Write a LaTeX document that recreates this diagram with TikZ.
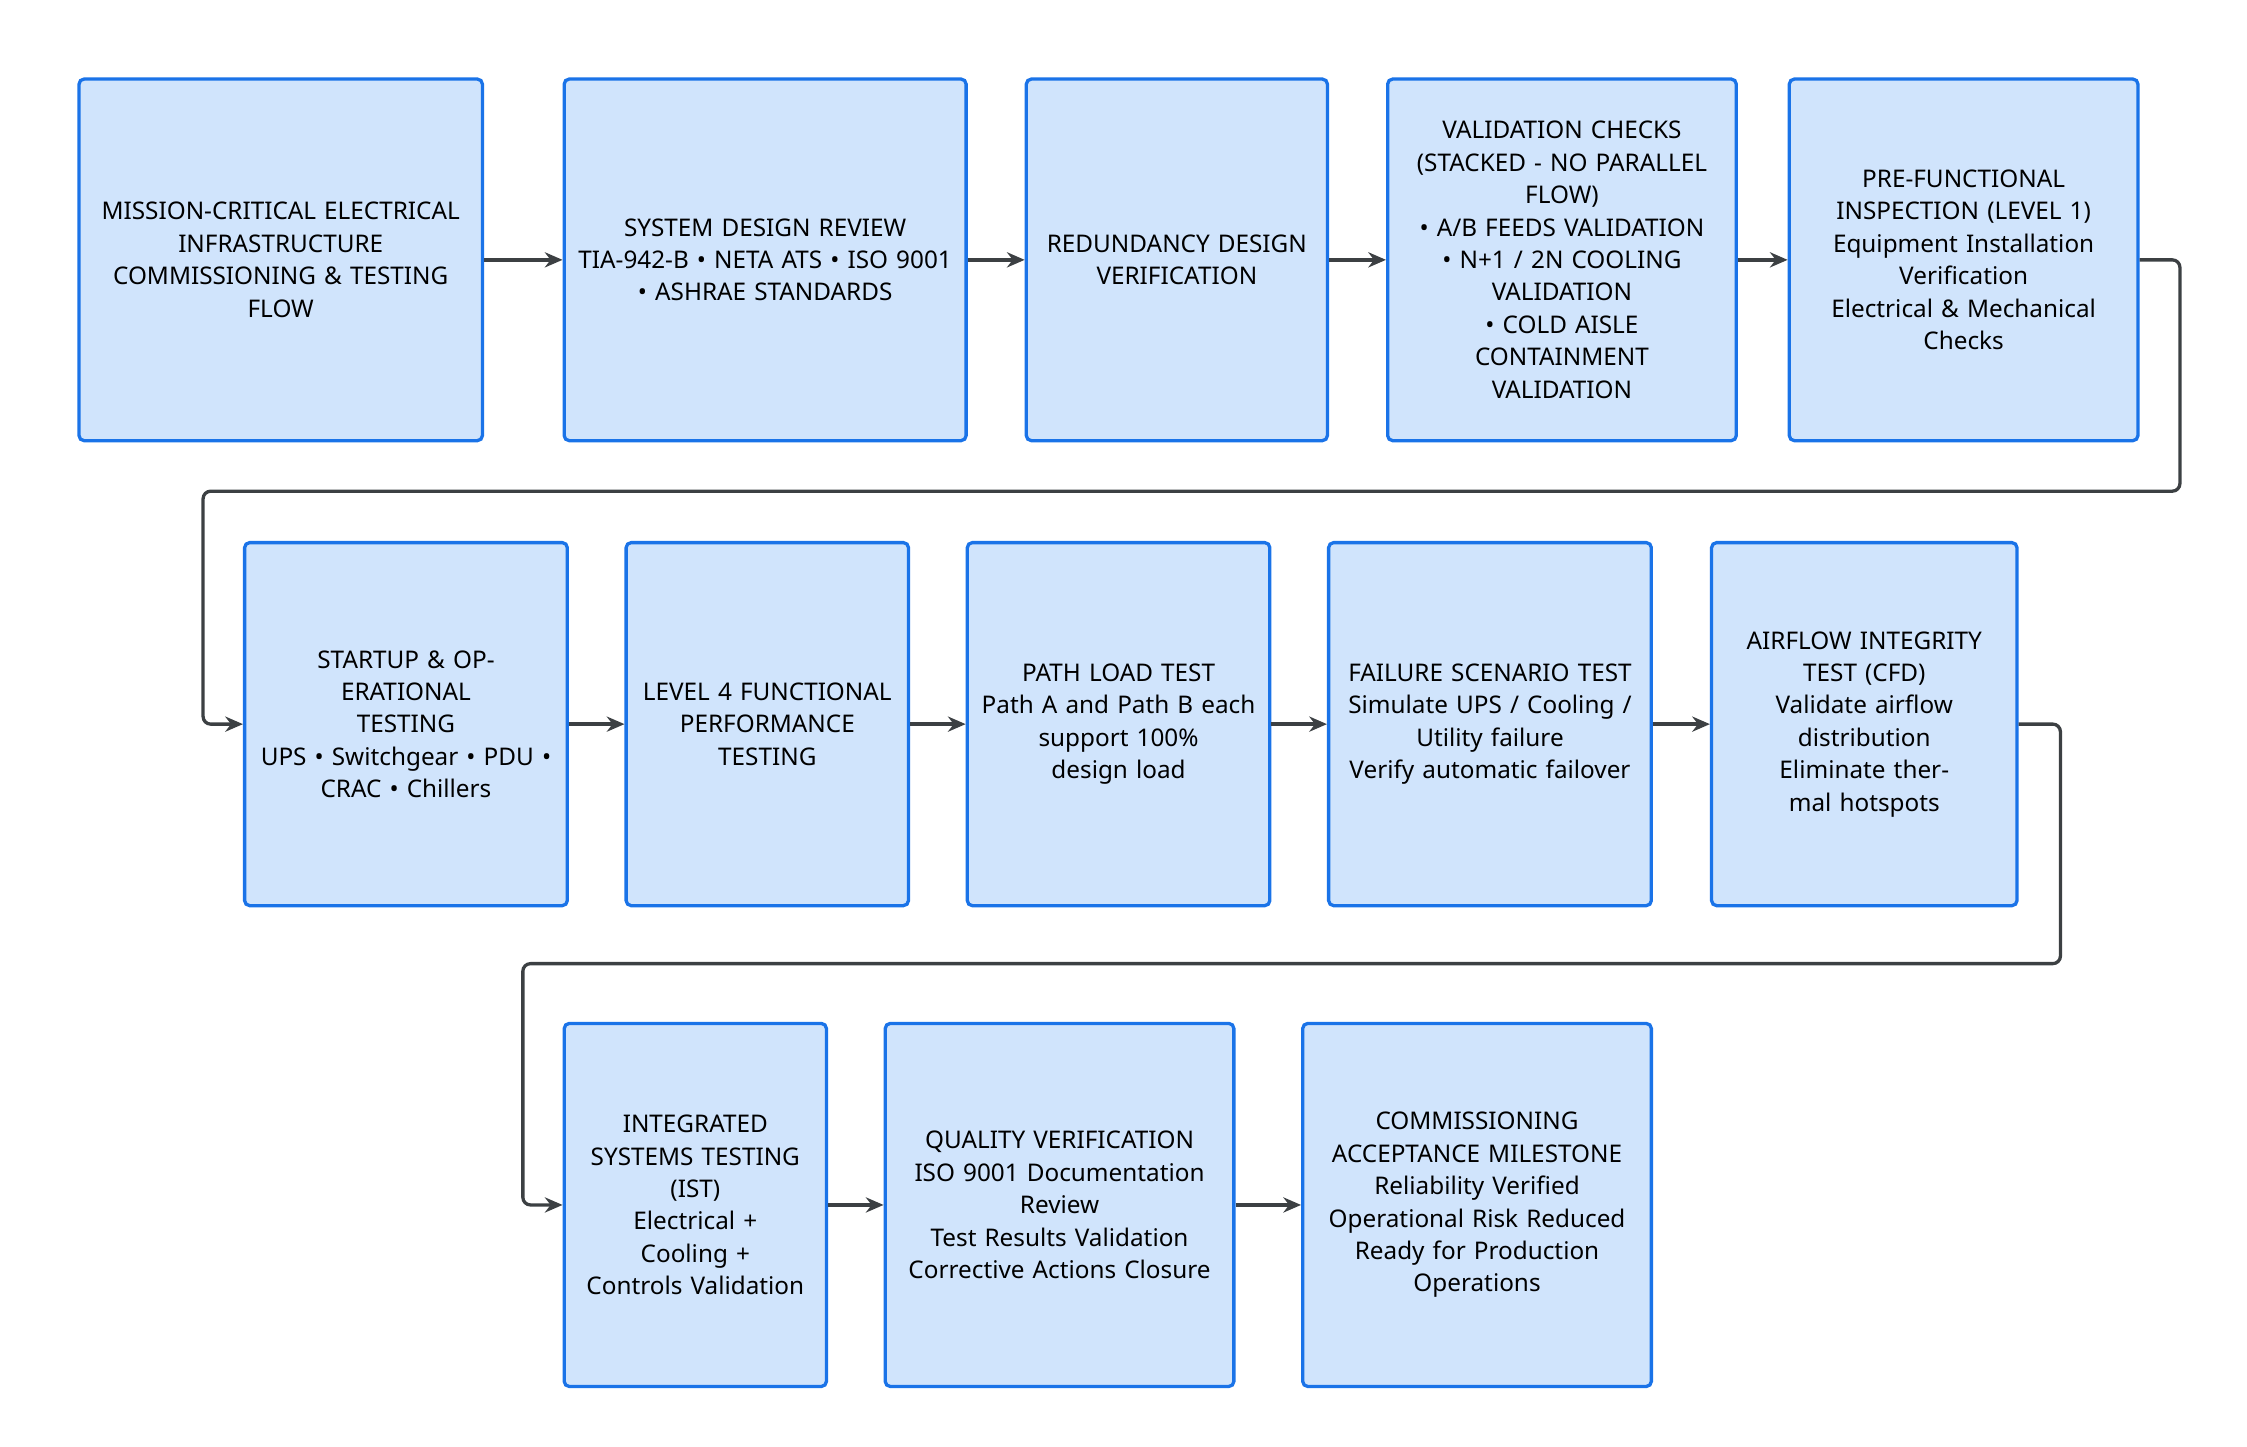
\documentclass[tikz,border=0pt]{standalone}
\usepackage{fontspec}
\setmainfont{Noto Sans}
\usetikzlibrary{arrows.meta}
\definecolor{boxfill}{HTML}{D0E4FC}
\definecolor{boxline}{HTML}{1A73E8}
\definecolor{arrowcol}{HTML}{3C4043}
\tikzset{
  stage/.style={draw=boxline,fill=boxfill,line width=1.3pt,rounded corners=2pt,
    align=center,font=\fontsize{9.6}{12.8}\selectfont,inner sep=2pt},
  flow/.style={draw=arrowcol,line width=1.3pt,-{Stealth[length=7pt,width=6pt]}}
}
% box macro: name, left, right, top, bottom (px), text
\newcommand{\stagebox}[6]{%
  \node[stage,minimum width={(#3-#2)*0.02cm},minimum height={(#5-#4)*0.02cm},
    text width={(#3-#2)*0.02cm-10pt}] (#1) at ({(#2+#3)*0.01},{-(#4+#5)*0.01}) {#6};}
\begin{document}
\begin{tikzpicture}
\useasboundingbox (0,0) rectangle (31.2,-20.08);
% row 1
\stagebox{a1}{55}{335}{55}{306}{MISSION-CRITICAL ELECTRICAL\\INFRASTRUCTURE\\COMMISSIONING \& TESTING\\FLOW}
\stagebox{a2}{392}{671}{55}{306}{SYSTEM DESIGN REVIEW\\TIA-942-B • NETA ATS • ISO 9001\\• ASHRAE STANDARDS}
\stagebox{a3}{713}{922}{55}{306}{REDUNDANCY DESIGN\\VERIFICATION}
\stagebox{a4}{964}{1206}{55}{306}{VALIDATION CHECKS\\(STACKED - NO PARALLEL\\FLOW)\\• A/B FEEDS VALIDATION\\• N+1 / 2N COOLING\\VALIDATION\\• COLD AISLE CONTAINMENT\\VALIDATION}
\stagebox{a5}{1243}{1485}{55}{306}{PRE-FUNCTIONAL\\INSPECTION (LEVEL 1)\\Equipment Installation\\Verification\\Electrical \& Mechanical\\Checks}
% row 2
\stagebox{b1}{170}{394}{377}{629}{STARTUP \& OPERATIONAL\\TESTING\\UPS • Switchgear • PDU •\\CRAC • Chillers}
\stagebox{b2}{435}{631}{377}{629}{LEVEL 4 FUNCTIONAL\\PERFORMANCE\\TESTING}
\stagebox{b3}{672}{882}{377}{629}{PATH LOAD TEST\\Path A and Path B each\\support 100\% design load}
\stagebox{b4}{923}{1147}{377}{629}{FAILURE SCENARIO TEST\\Simulate UPS / Cooling /\\Utility failure\\Verify automatic failover}
\stagebox{b5}{1189}{1401}{377}{629}{AIRFLOW INTEGRITY\\TEST (CFD)\\Validate airflow\\distribution\\Eliminate thermal hotspots}
% row 3
\stagebox{c1}{392}{574}{711}{963}{INTEGRATED\\SYSTEMS TESTING\\(IST)\\Electrical + Cooling +\\Controls Validation}
\stagebox{c2}{615}{857}{711}{963}{QUALITY VERIFICATION\\ISO 9001 Documentation\\Review\\Test Results Validation\\Corrective Actions Closure}
\stagebox{c3}{905}{1147}{711}{963}{COMMISSIONING\\ACCEPTANCE MILESTONE\\Reliability Verified\\Operational Risk Reduced\\Ready for Production\\Operations}
% connectors
\foreach \p/\q in {a1/a2,a2/a3,a3/a4,a4/a5,b1/b2,b2/b3,b3/b4,b4/b5,c1/c2,c2/c3}
  \draw[flow] (\p.east) -- (\q.west);
\draw[flow,rounded corners=3pt] (a5.east) -- ++(0.56,0) |- (2.82,-6.82) |- (b1.west);
\draw[flow,rounded corners=3pt] (b5.east) -- ++(0.58,0) |- (7.26,-13.38) |- (c1.west);
\end{tikzpicture}
\end{document}
